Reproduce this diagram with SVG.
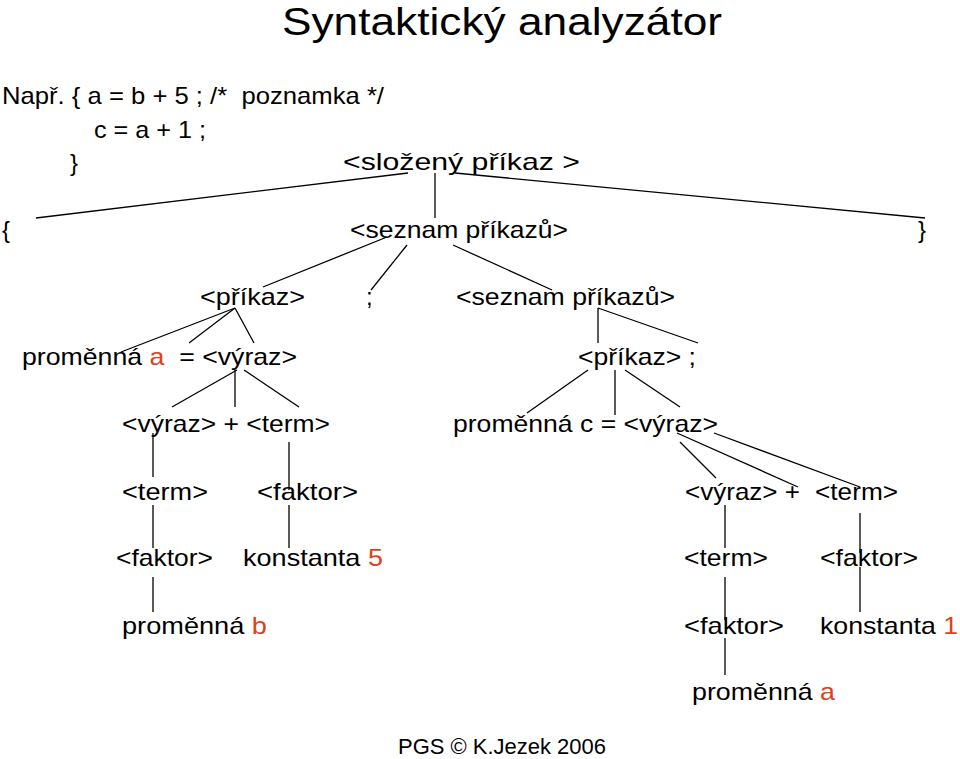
<svg xmlns="http://www.w3.org/2000/svg" width="960" height="759" viewBox="0 0 960 759">
<style>
text{font-family:"Liberation Sans",Arial,sans-serif;font-size:24px;fill:#000}
.r{fill:#e0401a}
#conn line{stroke:#000;stroke-width:1.3}
</style>
<rect width="960" height="759" fill="#fff"/>
<text x="282" y="35" style="font-size:38px" textLength="440" lengthAdjust="spacingAndGlyphs">Syntaktický analyzátor</text>
<text x="2" y="104" xml:space="preserve" textLength="382" lengthAdjust="spacingAndGlyphs">Např. { a = b + 5 ; /*  poznamka */</text>
<text x="94" y="138" textLength="112" lengthAdjust="spacingAndGlyphs">c = a + 1 ;</text>
<text x="70" y="171">}</text>
<g id="conn">
<line x1="408" y1="173" x2="36" y2="218"/>
<line x1="435" y1="173" x2="435" y2="218"/>
<line x1="455" y1="173" x2="925" y2="218"/>
<line x1="387" y1="237" x2="263" y2="287"/>
<line x1="407" y1="245" x2="371" y2="290"/>
<line x1="453" y1="245" x2="552" y2="290"/>
<line x1="235" y1="308" x2="121" y2="352"/>
<line x1="235" y1="308" x2="189" y2="343"/>
<line x1="235" y1="308" x2="254" y2="343"/>
<line x1="598" y1="308" x2="598" y2="343"/>
<line x1="598" y1="308" x2="698" y2="343"/>
<line x1="237" y1="370" x2="172" y2="407"/>
<line x1="235" y1="370" x2="235" y2="407"/>
<line x1="244" y1="370" x2="299" y2="407"/>
<line x1="588" y1="370" x2="527" y2="413"/>
<line x1="615" y1="370" x2="615" y2="415"/>
<line x1="625" y1="370" x2="680" y2="407"/>
<line x1="680" y1="442" x2="716" y2="478"/>
<line x1="677" y1="433" x2="798" y2="487"/>
<line x1="714" y1="433" x2="860" y2="487"/>
<line x1="153" y1="433" x2="153" y2="477"/>
<line x1="289" y1="442" x2="289" y2="490"/>
<line x1="153" y1="505" x2="153" y2="548"/>
<line x1="289" y1="505" x2="289" y2="548"/>
<line x1="153" y1="577" x2="153" y2="612"/>
<line x1="725" y1="505" x2="725" y2="548"/>
<line x1="860" y1="513" x2="860" y2="553"/>
<line x1="725" y1="577" x2="725" y2="620"/>
<line x1="860" y1="567" x2="860" y2="612"/>
<line x1="725" y1="638" x2="725" y2="675"/>
</g>
<g id="n1"><text x="343" y="170" textLength="237" lengthAdjust="spacingAndGlyphs">&lt;složený příkaz &gt;</text></g>
<g id="n2"><text x="2" y="238">{</text></g>
<g id="n3"><text x="350" y="238" textLength="218" lengthAdjust="spacingAndGlyphs">&lt;seznam příkazů&gt;</text></g>
<g id="n4"><text x="918" y="238">}</text></g>
<g id="n5"><text x="200" y="305" textLength="105" lengthAdjust="spacingAndGlyphs">&lt;příkaz&gt;</text></g>
<g id="n6"><text x="366" y="305">;</text></g>
<g id="n7"><text x="456" y="305" textLength="219" lengthAdjust="spacingAndGlyphs">&lt;seznam příkazů&gt;</text></g>
<g id="n8"><text x="22" y="365" xml:space="preserve" textLength="275" lengthAdjust="spacingAndGlyphs">proměnná <tspan class="r">a</tspan>  = &lt;výraz&gt;</text></g>
<g id="n9"><text x="578" y="365" textLength="118" lengthAdjust="spacingAndGlyphs">&lt;příkaz&gt; ;</text></g>
<g id="n10"><text x="122" y="432" textLength="208" lengthAdjust="spacingAndGlyphs">&lt;výraz&gt; + &lt;term&gt;</text></g>
<g id="n11"><text x="453" y="432" textLength="265" lengthAdjust="spacingAndGlyphs">proměnná c = &lt;výraz&gt;</text></g>
<g id="n12"><text x="122" y="500" textLength="86" lengthAdjust="spacingAndGlyphs">&lt;term&gt;</text></g>
<g id="n13"><text x="257" y="500" textLength="101" lengthAdjust="spacingAndGlyphs">&lt;faktor&gt;</text></g>
<g id="n14"><text x="685" y="500" textLength="115" lengthAdjust="spacingAndGlyphs">&lt;výraz&gt; +</text></g>
<g id="n15"><text x="815" y="500" textLength="83" lengthAdjust="spacingAndGlyphs">&lt;term&gt;</text></g>
<g id="n16"><text x="116" y="566" textLength="97" lengthAdjust="spacingAndGlyphs">&lt;faktor&gt;</text></g>
<g id="n17"><text x="243" y="566" textLength="140" lengthAdjust="spacingAndGlyphs">konstanta <tspan class="r">5</tspan></text></g>
<g id="n18"><text x="684" y="566" textLength="84" lengthAdjust="spacingAndGlyphs">&lt;term&gt;</text></g>
<g id="n19"><text x="820" y="566" textLength="98" lengthAdjust="spacingAndGlyphs">&lt;faktor&gt;</text></g>
<g id="n20"><text x="122" y="634" textLength="145" lengthAdjust="spacingAndGlyphs">proměnná <tspan class="r">b</tspan></text></g>
<g id="n21"><text x="684" y="634" textLength="100" lengthAdjust="spacingAndGlyphs">&lt;faktor&gt;</text></g>
<g id="n22"><text x="820" y="634" textLength="138" lengthAdjust="spacingAndGlyphs">konstanta <tspan class="r">1</tspan></text></g>
<g id="n23"><text x="692" y="700" textLength="143" lengthAdjust="spacingAndGlyphs">proměnná <tspan class="r">a</tspan></text></g>
<text x="398" y="754" style="font-size:22px" textLength="208" lengthAdjust="spacingAndGlyphs">PGS © K.Jezek 2006</text>
</svg>
